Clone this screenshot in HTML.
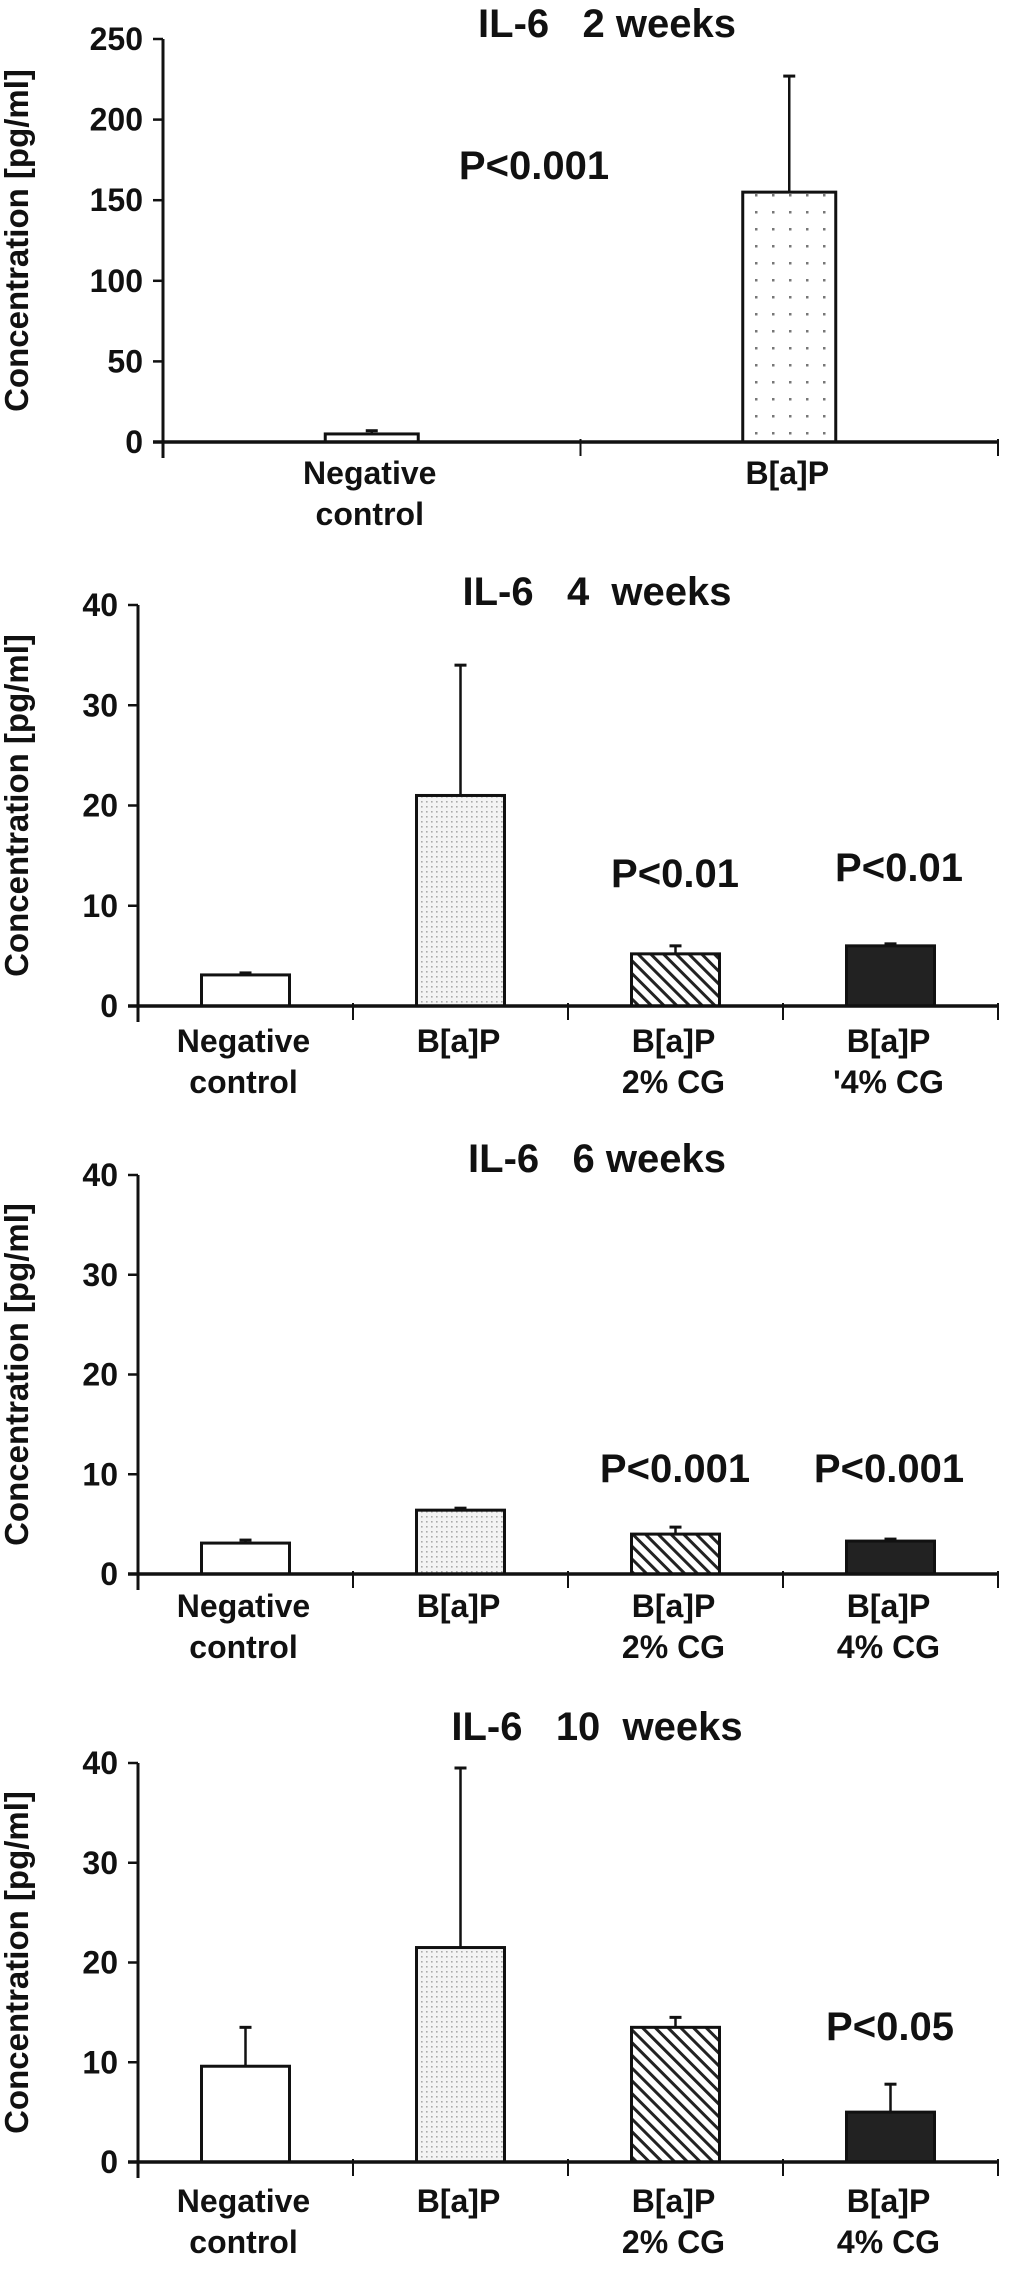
<!DOCTYPE html>
<html><head><meta charset="utf-8"><style>
html,body{margin:0;padding:0;background:#fff}
svg{display:block}
text{font-family:"Liberation Sans",Arial,sans-serif;font-weight:bold;fill:#111}
.pre{white-space:pre}
</style></head><body>
<svg id="fig" width="1023" height="2284" viewBox="0 0 1023 2284" xmlns="http://www.w3.org/2000/svg">
<defs>
<pattern id="dotsSparse" width="17" height="17" patternUnits="userSpaceOnUse"><rect width="17" height="17" fill="#fff"/><rect x="7" y="7" width="2.5" height="2.5" fill="#777"/></pattern>
<pattern id="dotsFine" width="5" height="5" patternUnits="userSpaceOnUse"><rect width="5" height="5" fill="#f4f4f4"/><rect x="1" y="1" width="1.6" height="1.6" fill="#aaa"/></pattern>
<pattern id="hatch" width="9" height="9" patternUnits="userSpaceOnUse" patternTransform="rotate(-45)"><rect width="9" height="9" fill="#fff"/><rect x="0" y="0" width="3" height="9" fill="#222"/></pattern>
</defs>
</svg>
<script>
// ---- chart data ----
const c1Categories = ["Negative|control", "B[a]P"];
const c1Values = [5, 155];
const c1Errors = [7, 227];
const c1Ticks = [0, 50, 100, 150, 200, 250];
const c1PLabels = ["", "P<0.001"];

const c2Categories = ["Negative|control", "B[a]P", "B[a]P|2% CG", "B[a]P|'4% CG"];
const c2Values = [3.1, 21, 5.2, 6];
const c2Errors = [3.3, 34, 6, 6.2];
const c2Ticks = [0, 10, 20, 30, 40];
const c2PLabels = ["", "", "P<0.01", "P<0.01"];

const c3Categories = ["Negative|control", "B[a]P", "B[a]P|2% CG", "B[a]P|4% CG"];
const c3Values = [3.1, 6.4, 4.0, 3.3];
const c3Errors = [3.4, 6.6, 4.7, 3.5];
const c3Ticks = [0, 10, 20, 30, 40];
const c3PLabels = ["", "", "P<0.001", "P<0.001"];

const c4Categories = ["Negative|control", "B[a]P", "B[a]P|2% CG", "B[a]P|4% CG"];
const c4Values = [9.6, 21.5, 13.5, 5];
const c4Errors = [13.5, 39.5, 14.5, 7.8];
const c4Ticks = [0, 10, 20, 30, 40];
const c4PLabels = ["", "", "", "P<0.05"];

const NS = "http://www.w3.org/2000/svg";
const svg = document.getElementById('fig');
function mk(tag, attrs, parent, txt){
  const e = document.createElementNS(NS, tag);
  for (const k in attrs) e.setAttribute(k, attrs[k]);
  if (txt !== undefined) e.textContent = txt;
  parent.appendChild(e);
  return e;
}

function drawChart(o){
  const g = mk('g', {}, svg);
  
  
  const ymax = o.ticks[o.ticks.length-1];
  const ys = v => o.y0 - (v/ymax)*(o.y0 - o.yTop);
  const n = o.cats.length;
  const cw = (o.xEnd - o.x0)/n;
  const xc = i => o.x0 + cw*(i+0.5);

  const t = mk('text', {x: o.titleX, y: o.titleY, 'font-size': 40, 'text-anchor':'middle', 'class':'pre'}, g, o.title);
  
  
  const yt = mk('text', {x: 0, y: 0, 'font-size': 33, 'text-anchor':'middle', transform:`translate(28,${(o.yTop+o.y0)/2}) rotate(-90)`}, g, 'Concentration [pg/ml]');
  
  

  o.vals.forEach((v,i)=>{
    const bw = o.bw;
    const x = xc(i) - bw/2;
    const ey = ys(o.errs[i]);
    const el = mk('line', {x1:xc(i), x2:xc(i), y1:ys(v), y2:ey, stroke:'#111', 'stroke-width':2.5}, g);
    
    
    const cap = mk('line', {x1:xc(i)-6, x2:xc(i)+6, y1:ey, y2:ey, stroke:'#111', 'stroke-width':3}, g);
    
    
    const r = mk('rect', {x:x, y:ys(v), width:bw, height:o.y0-ys(v), fill:o.fills[i], stroke:'#111', 'stroke-width':3}, g);
    
    
    if (o.plabels[i]) {
      const p = mk('text', {x:o.pX ? o.pX[i] : xc(i), y:o.pY[i], 'font-size':40, 'text-anchor':'middle'}, g, o.plabels[i]);
      
      
    }
    const lines = o.cats[i].split('|');
    lines.forEach((s,j)=>{
      const lt = mk('text', {x:xc(i)-2, y:o.labY + j*41, 'font-size':32, 'text-anchor':'middle'}, g, s);
      
      
    });
  });

  const ya = mk('line', {x1:o.x0, x2:o.x0, y1:o.yTop, y2:o.y0+16, stroke:'#111', 'stroke-width':3}, g);
  
  
  const xa = mk('line', {x1:o.x0-10, x2:o.xEnd, y1:o.y0, y2:o.y0, stroke:'#111', 'stroke-width':3.5}, g);
  
  
  for (let i=1;i<=n;i++){
    const xt = o.x0 + cw*i;
    const tk = mk('line', {x1:xt, x2:xt, y1:o.y0-3, y2:o.y0+14, stroke:'#111', 'stroke-width':2}, g);
    
    
  }
  o.ticks.forEach(v=>{
    const tk = mk('line', {x1:o.x0-10, x2:o.x0, y1:ys(v), y2:ys(v), stroke:'#111', 'stroke-width':2.5}, g);
    
    
    const tl = mk('text', {x:o.x0-20, y:ys(v)+11, 'font-size':32, 'text-anchor':'end'}, g, String(v));
    
    
  });
}

drawChart({name:'chart-2-weeks', title:'IL-6   2 weeks', titleX:607, titleY:37,
  cats:c1Categories, vals:c1Values, errs:c1Errors, ticks:c1Ticks, plabels:c1PLabels,
  x0:163, xEnd:998, y0:442, yTop:39, bw:93, labY:484,
  fills:['#fff','url(#dotsSparse)'], pX:[0,534], pY:[0,179]});

drawChart({name:'chart-4-weeks', title:'IL-6   4  weeks', titleX:597, titleY:605,
  cats:c2Categories, vals:c2Values, errs:c2Errors, ticks:c2Ticks, plabels:c2PLabels,
  x0:138, xEnd:998, y0:1006, yTop:605, bw:88, labY:1052,
  fills:['#fff','url(#dotsFine)','url(#hatch)','#222'], pX:[0,0,675,899], pY:[0,0,887,881]});

drawChart({name:'chart-6-weeks', title:'IL-6   6 weeks', titleX:597, titleY:1172,
  cats:c3Categories, vals:c3Values, errs:c3Errors, ticks:c3Ticks, plabels:c3PLabels,
  x0:138, xEnd:998, y0:1574, yTop:1175, bw:88, labY:1617,
  fills:['#fff','url(#dotsFine)','url(#hatch)','#222'], pX:[0,0,675,889], pY:[0,0,1482,1482]});

drawChart({name:'chart-10-weeks', title:'IL-6   10  weeks', titleX:597, titleY:1740,
  cats:c4Categories, vals:c4Values, errs:c4Errors, ticks:c4Ticks, plabels:c4PLabels,
  x0:138, xEnd:998, y0:2162, yTop:1763, bw:88, labY:2212,
  fills:['#fff','url(#dotsFine)','url(#hatch)','#222'], pX:[0,0,0,890], pY:[0,0,0,2040]});
</script>
</body></html>
